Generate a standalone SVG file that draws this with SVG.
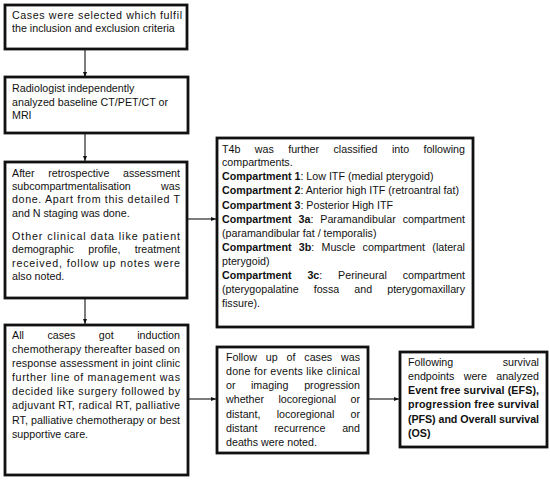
<svg xmlns="http://www.w3.org/2000/svg" width="550" height="480" viewBox="0 0 550 480">
<style>
text{font-family:"Liberation Sans",Arial,sans-serif;font-size:10.7px;fill:#111}
.b{font-weight:bold}
.e{text-anchor:end}
.box{fill:#fff;stroke:#111;stroke-width:2.8}
.c{stroke:#111;stroke-width:1.1;fill:none}
</style>
<defs>
<marker id="ah" viewBox="0 0 10 10" refX="10" refY="5" markerWidth="5" markerHeight="5" orient="auto" markerUnits="userSpaceOnUse">
<path d="M0,1 L10,5 L0,9 z" fill="#111"/>
</marker>
</defs>
<rect width="550" height="480" fill="#fff"/>
<g id="connectors">
<line class="c" x1="85" y1="50" x2="85" y2="77" marker-end="url(#ah)"/>
<line class="c" x1="85" y1="134" x2="85" y2="161" marker-end="url(#ah)"/>
<line class="c" x1="85" y1="299" x2="85" y2="324" marker-end="url(#ah)"/>
<line class="c" x1="188" y1="219" x2="216" y2="219" marker-end="url(#ah)"/>
<line class="c" x1="189" y1="399" x2="216" y2="399" marker-end="url(#ah)"/>
<line class="c" x1="369" y1="399" x2="399" y2="399" marker-end="url(#ah)"/>
</g>
<g id="n1">
<rect class="box" x="5" y="5" width="182" height="44"/>
<text x="12" y="18.5" textLength="170" lengthAdjust="spacing">Cases were selected which fulfil</text>
<text x="12" y="32">the inclusion and exclusion criteria</text>
</g>
<g id="n2">
<rect class="box" x="5" y="77" width="183" height="56"/>
<text x="12" y="92">Radiologist independently</text>
<text x="12" y="105.5">analyzed baseline CT/PET/CT or</text>
<text x="12" y="119">MRI</text>
</g>
<g id="n3">
<rect class="box" x="5" y="162" width="182" height="136"/>
<text x="12" y="176.7">After</text><text x="48.2" y="176.7">retrospective</text><text class="e" x="180" y="176.7">assessment</text>
<text x="12" y="190">subcompartmentalisation</text><text class="e" x="180" y="190">was</text>
<text x="12" y="203.4" textLength="168" lengthAdjust="spacing">done. Apart from this detailed T</text>
<text x="12" y="216.8">and N staging was done.</text>
<text x="12" y="240" textLength="168" lengthAdjust="spacing">Other clinical data like patient</text>
<text x="12" y="253.4">demographic</text><text x="88.3" y="253.4">profile,</text><text class="e" x="180" y="253.4">treatment</text>
<text x="12" y="266.8" textLength="168" lengthAdjust="spacing">received, follow up notes were</text>
<text x="12" y="280.2">also noted.</text>
</g>
<g id="n4">
<rect class="box" x="217" y="138" width="256" height="189"/>
<text x="222" y="152.5">T4b</text><text x="254.8" y="152.5">was</text><text x="288.2" y="152.5">further</text><text x="333.5" y="152.5">classified</text><text x="391.9" y="152.5">into</text><text class="e" x="465" y="152.5">following</text>
<text x="222" y="165.8">compartments.</text>
<text x="222" y="179.8"><tspan class="b">Compartment 1</tspan>: Low ITF (medial pterygoid)</text>
<text x="222" y="194.2"><tspan class="b">Compartment 2</tspan>: Anterior high ITF (retroantral fat)</text>
<text x="222" y="208.5"><tspan class="b">Compartment 3</tspan>: Posterior High ITF</text>
<text x="222" y="222.7" class="b">Compartment</text><text x="298.5" y="222.7"><tspan class="b">3a</tspan>:</text><text x="320.3" y="222.7">Paramandibular</text><text class="e" x="465" y="222.7">compartment</text>
<text x="222" y="236.8">(paramandibular fat / temporalis)</text>
<text x="222" y="251" class="b">Compartment</text><text x="298.8" y="251"><tspan class="b">3b</tspan>:</text><text x="321.5" y="251">Muscle</text><text x="362.6" y="251">compartment</text><text class="e" x="465" y="251">(lateral</text>
<text x="222" y="265">pterygoid)</text>
<text x="222" y="279.3" class="b">Compartment</text><text x="307.4" y="279.3"><tspan class="b">3c</tspan>:</text><text x="338.1" y="279.3">Perineural</text><text class="e" x="465" y="279.3">compartment</text>
<text x="222" y="293.3">(pterygopalatine</text><text x="313.7" y="293.3">fossa</text><text x="354.3" y="293.3">and</text><text class="e" x="465" y="293.3">pterygomaxillary</text>
<text x="222" y="307">fissure).</text>
</g>
<g id="n5">
<rect class="box" x="5" y="325" width="183" height="150"/>
<text x="12" y="339.3">All</text><text x="47.4" y="339.3">cases</text><text x="98.8" y="339.3">got</text><text class="e" x="180" y="339.3">induction</text>
<text x="12" y="353.3" textLength="168" lengthAdjust="spacing">chemotherapy thereafter based on</text>
<text x="12" y="367.3" textLength="168" lengthAdjust="spacing">response assessment in joint clinic</text>
<text x="12" y="381.3" textLength="168" lengthAdjust="spacing">further line of management was</text>
<text x="12" y="395.3" textLength="168" lengthAdjust="spacing">decided like surgery followed by</text>
<text x="12" y="409.4" textLength="168" lengthAdjust="spacing">adjuvant RT, radical RT, palliative</text>
<text x="12" y="423.6" textLength="168" lengthAdjust="spacing">RT, palliative chemotherapy or best</text>
<text x="12" y="437.7">supportive care.</text>
</g>
<g id="n6">
<rect class="box" x="217" y="347" width="151" height="106"/>
<text x="226" y="361">Follow</text><text x="265.8" y="361">up</text><text x="286.5" y="361">of</text><text x="304.3" y="361">cases</text><text class="e" x="360" y="361">was</text>
<text x="226" y="375.2" textLength="134" lengthAdjust="spacing">done for events like clinical</text>
<text x="226" y="389.3">or</text><text x="251" y="389.3">imaging</text><text class="e" x="360" y="389.3">progression</text>
<text x="226" y="403.4">whether</text><text x="278.4" y="403.4">locoregional</text><text class="e" x="360" y="403.4">or</text>
<text x="226" y="417.6">distant,</text><text x="276.7" y="417.6">locoregional</text><text class="e" x="360" y="417.6">or</text>
<text x="226" y="431.7">distant</text><text x="274.3" y="431.7">recurrence</text><text class="e" x="360" y="431.7">and</text>
<text x="226" y="445.8">deaths were noted.</text>
</g>
<g id="n7">
<rect class="box" x="400" y="352" width="147" height="95"/>
<text x="408" y="366">Following</text><text class="e" x="539" y="366">survival</text>
<text x="408" y="380.2">endpoints</text><text x="463.7" y="380.2">were</text><text class="e" x="539" y="380.2">analyzed</text>
<text x="408" y="394.3" class="b" textLength="131" lengthAdjust="spacing">Event free survival (EFS),</text>
<text x="408" y="408.4" class="b" textLength="131" lengthAdjust="spacing">progression free survival</text>
<text x="408" y="422.6" class="b" textLength="131" lengthAdjust="spacing">(PFS) and Overall survival</text>
<text x="408" y="436.7" class="b">(OS)</text>
</g>
</svg>
